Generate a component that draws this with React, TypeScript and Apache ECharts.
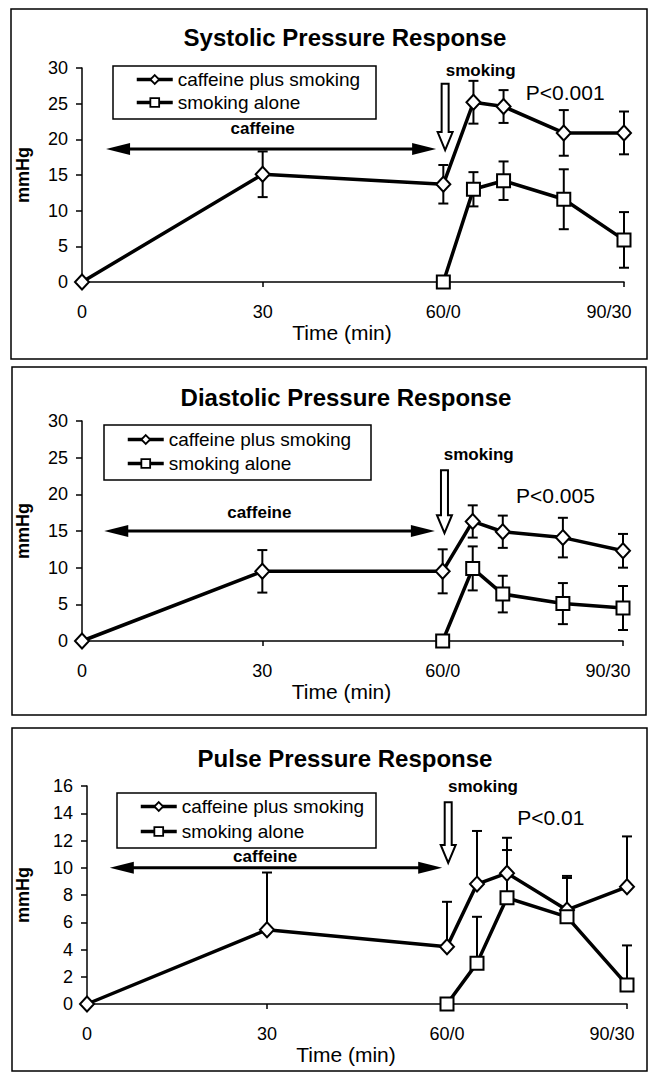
import React, { useEffect, useRef } from "react";
import * as echarts from "echarts";

// ---- data ----
const timeAll = [0, 30, 60, 65, 70, 80, 90];
const timeSmoke = [60, 65, 70, 80, 90];
const xTickValues = [0, 30, 60, 90];
const xTickLabels = ["0", "30", "60/0", "90/30"];
const seriesNames = ["caffeine plus smoking", "smoking alone"];
const panelTitles = ["Systolic Pressure Response", "Diastolic Pressure Response", "Pulse Pressure Response"];
const pLabels = ["P<0.001", "P<0.005", "P<0.01"];

const sysCaf = [0, 15.1, 13.7, 25.2, 24.6, 20.9, 20.9];
const sysCafErr = [0, 3.2, 2.7, 3.0, 2.3, 3.2, 3.0];
const sysSmk = [0, 13.0, 14.2, 11.6, 5.9];
const sysSmkErr = [0, 2.4, 2.7, 4.2, 3.9];

const diaCaf = [0, 9.5, 9.5, 16.3, 14.9, 14.1, 12.3];
const diaCafErr = [0, 2.9, 3.0, 2.2, 2.2, 2.7, 2.3];
const diaSmk = [0, 9.9, 6.4, 5.1, 4.5];
const diaSmkErr = [0, 3.0, 2.5, 2.8, 3.0];

const pulCaf = [0, 5.45, 4.2, 8.8, 9.6, 6.9, 8.6];
const pulCafErr = [0, 4.2, 3.3, 3.9, 2.6, 2.5, 3.7];
const pulSmk = [0, 3.0, 7.8, 6.4, 1.4];
const pulSmkErr = [0, 3.4, 3.5, 2.85, 2.9];

const yMax = [30, 30, 16];
const yInterval = [5, 5, 2];

// ---- layout ----
const FONT = "'Liberation Sans', Arial, Helvetica, sans-serif";
const grids = [
  { left: 82, top: 68, width: 542, height: 214 },
  { left: 82, top: 421, width: 541, height: 220 },
  { left: 87, top: 786, width: 540, height: 218 },
];
const titleTops = [25, 385, 746];
const titleCenters = [345, 346, 345];
const legendPos = [
  { left: 113, top: 66, gap: 4, pad: [4, 20, 5, 22] },
  { left: 104, top: 425, gap: 5, pad: [5, 20, 5, 22] },
  { left: 117, top: 793, gap: 6, pad: [4, 20, 6, 22] },
];
const legendBoxes = [
  { x: 113, y: 66, w: 263, h: 53 },
  { x: 104, y: 425, w: 267, h: 55 },
  { x: 117, y: 793, w: 259, h: 55 },
];
const panelBoxes = [
  { x: 11, y: 9, w: 636, h: 350 },
  { x: 12, y: 367, w: 634, h: 348 },
  { x: 12, y: 728, w: 635, h: 343 },
];
const xNameGap = [37, 35, 33];
const yNameGap = [50, 50, 55];
// annotation anchors in data units of each panel
const annots = [
  { aFrom: 4, aTo: 58.8, aY: 18.65, cX: 30, cY: 21.5, sX: 66.2, sY: 29.7, dX: 60.3, dTop: 27.8, dTip: 18.5, pX: 73.7, pY: 26.6 },
  { aFrom: 3.7, aTo: 58.7, aY: 15, cX: 29.5, cY: 17.5, sX: 66, sY: 25.4, dX: 60.3, dTop: 23.3, dTip: 14.7, pX: 72.2, pY: 19.9 },
  { aFrom: 3.8, aTo: 59.2, aY: 10, cX: 29.7, cY: 10.8, sX: 66, sY: 16.0, dX: 60.2, dTop: 14.8, dTip: 10.35, pX: 71.7, pY: 13.7 },
];

const panels = [
  { caf: sysCaf, cafErr: sysCafErr, smk: sysSmk, smkErr: sysSmkErr, twoSided: true },
  { caf: diaCaf, cafErr: diaCafErr, smk: diaSmk, smkErr: diaSmkErr, twoSided: true },
  { caf: pulCaf, cafErr: pulCafErr, smk: pulSmk, smkErr: pulSmkErr, twoSided: false },
];

function errRender(params: any, api: any) {
  const x = api.value(0);
  const y = api.value(1);
  const up = api.value(2);
  const dn = api.value(3);
  if (!up && !dn) return null;
  const top = api.coord([x, y + up]);
  const bot = api.coord([x, y - dn]);
  const style = { stroke: "#000", lineWidth: 2 };
  const children: any[] = [
    { type: "line", shape: { x1: top[0], y1: top[1], x2: bot[0], y2: bot[1] }, style },
    { type: "line", shape: { x1: top[0] - 5, y1: top[1], x2: top[0] + 5, y2: top[1] }, style },
  ];
  if (dn > 0) {
    children.push({ type: "line", shape: { x1: bot[0] - 5, y1: bot[1], x2: bot[0] + 5, y2: bot[1] }, style });
  }
  return { type: "group", children };
}

function buildOption() {
  const series: any[] = [];
  panels.forEach((p, i) => {
    const cafErrData = timeAll.map((t, k) => [t, p.caf[k], p.cafErr[k], p.twoSided ? p.cafErr[k] : 0]);
    const smkErrData = timeSmoke.map((t, k) => [t, p.smk[k], p.smkErr[k], p.twoSided ? p.smkErr[k] : 0]);
    series.push({
      type: "custom",
      name: "err-caf-" + i,
      xAxisIndex: i,
      yAxisIndex: i,
      renderItem: errRender,
      data: cafErrData,
      encode: { x: 0, y: 1 },
      clip: false,
      silent: true,
      z: 2,
    });
    series.push({
      type: "custom",
      name: "err-smk-" + i,
      xAxisIndex: i,
      yAxisIndex: i,
      renderItem: errRender,
      data: smkErrData,
      encode: { x: 0, y: 1 },
      clip: false,
      silent: true,
      z: 2,
    });
    series.push({
      type: "line",
      name: seriesNames[0],
      xAxisIndex: i,
      yAxisIndex: i,
      data: timeAll.map((t, k) => [t, p.caf[k]]),
      symbol: "diamond",
      symbolSize: [14, 15],
      showAllSymbol: true,
      clip: false,
      lineStyle: { color: "#000", width: 3.5 },
      itemStyle: { color: "#fff", borderColor: "#000", borderWidth: 2 },
      z: 3,
    });
    series.push({
      type: "line",
      name: seriesNames[1],
      xAxisIndex: i,
      yAxisIndex: i,
      data: timeSmoke.map((t, k) => [t, p.smk[k]]),
      symbol: "rect",
      symbolSize: 13,
      showAllSymbol: true,
      clip: false,
      lineStyle: { color: "#000", width: 3.5 },
      itemStyle: { color: "#fff", borderColor: "#000", borderWidth: 2 },
      z: 3,
    });
  });

  return {
    animation: false,
    backgroundColor: "#fff",
    textStyle: { fontFamily: FONT, color: "#000" },
    title: panelTitles.map((t, i) => ({
      text: t,
      left: titleCenters[i],
      top: titleTops[i],
      textAlign: "center",
      padding: 0,
      textStyle: { fontSize: 24, fontWeight: "bold", color: "#000", fontFamily: FONT },
    })),
    legend: legendPos.map((l) => ({
      data: seriesNames,
      orient: "vertical",
      left: l.left,
      top: l.top,
      padding: l.pad,
      itemGap: l.gap,
      itemWidth: 36,
      itemHeight: 11,
      borderWidth: 0,
      selectedMode: false,
      lineStyle: { width: 3.5, color: "#000" },
      itemStyle: { color: "#fff", borderColor: "#000", borderWidth: 1.8 },
      textStyle: { fontSize: 19, color: "#000", fontFamily: FONT },
    })),
    grid: grids.map((g) => ({ ...g })),
    xAxis: grids.map((g, i) => ({
      type: "value",
      gridIndex: i,
      min: 0,
      max: 90,
      interval: 30,
      splitLine: { show: false },
      axisLine: { show: true, onZero: false, lineStyle: { color: "#000", width: 1.5 } },
      axisTick: { show: true, length: 5, lineStyle: { color: "#000", width: 1.5 } },
      axisLabel: {
        fontSize: 18,
        color: "#000",
        fontFamily: FONT,
        margin: 21,
        formatter: (v: number) => {
          const k = xTickValues.indexOf(v);
          if (k < 0) return "";
          return k === xTickValues.length - 1 ? "{last|" + xTickLabels[k] + "}" : xTickLabels[k];
        },
        rich: {
          last: { fontSize: 18, color: "#000", fontFamily: FONT, padding: [0, 30, 0, 0] },
        },
      },
      name: "Time (min)",
      nameLocation: "middle",
      nameGap: xNameGap[i],
      nameTextStyle: { fontSize: 21, color: "#000", fontFamily: FONT, padding: [0, 22, 0, 0] },
    })),
    yAxis: grids.map((g, i) => ({
      type: "value",
      gridIndex: i,
      min: 0,
      max: yMax[i],
      interval: yInterval[i],
      splitLine: { show: false },
      axisLine: { show: true, onZero: false, lineStyle: { color: "#000", width: 1.5 } },
      axisTick: { show: true, length: 6, lineStyle: { color: "#000", width: 1.5 } },
      axisLabel: { fontSize: 18, color: "#000", fontFamily: FONT, margin: 14 },
      name: "mmHg",
      nameLocation: "middle",
      nameRotate: 90,
      nameGap: yNameGap[i],
      nameTextStyle: { fontSize: 18, fontWeight: "bold", color: "#000", fontFamily: FONT },
    })),
    series,
  };
}

function buildGraphics(chart: any) {
  const els: any[] = [];
  panelBoxes.forEach((b) => {
    els.push({
      type: "rect",
      shape: { x: b.x, y: b.y, width: b.w, height: b.h },
      style: { fill: "none", stroke: "#000", lineWidth: 1.5 },
      silent: true,
      z: 0,
    });
  });
  legendBoxes.forEach((b) => {
    els.push({
      type: "rect",
      shape: { x: b.x, y: b.y, width: b.w, height: b.h },
      style: { fill: "none", stroke: "#000", lineWidth: 1.5 },
      silent: true,
      z: 0,
    });
  });
  annots.forEach((a, i) => {
    const px = (x: number, y: number) => chart.convertToPixel({ gridIndex: i }, [x, y]);
    const l = px(a.aFrom, a.aY);
    const r = px(a.aTo, a.aY);
    const hl = 24;
    const hh = 6;
    els.push({
      type: "line",
      shape: { x1: l[0] + hl - 2, y1: l[1], x2: r[0] - hl + 2, y2: r[1] },
      style: { stroke: "#000", lineWidth: 3 },
      silent: true,
    });
    els.push({
      type: "polygon",
      shape: { points: [[l[0], l[1]], [l[0] + hl, l[1] - hh], [l[0] + hl, l[1] + hh]] },
      style: { fill: "#000" },
      silent: true,
    });
    els.push({
      type: "polygon",
      shape: { points: [[r[0], r[1]], [r[0] - hl, r[1] - hh], [r[0] - hl, r[1] + hh]] },
      style: { fill: "#000" },
      silent: true,
    });
    const c = px(a.cX, a.cY);
    els.push({
      type: "text",
      x: c[0],
      y: c[1],
      style: { text: "caffeine", fontSize: 17, fontWeight: "bold", fontFamily: FONT, fill: "#000", align: "center", verticalAlign: "middle" },
      silent: true,
    });
    const s = px(a.sX, a.sY);
    els.push({
      type: "text",
      x: s[0],
      y: s[1],
      style: { text: "smoking", fontSize: 17, fontWeight: "bold", fontFamily: FONT, fill: "#000", align: "center", verticalAlign: "middle" },
      silent: true,
    });
    const dt = px(a.dX, a.dTop);
    const dp = px(a.dX, a.dTip);
    const cx = dt[0];
    const sw = 3.5;
    const hw = 7.5;
    const hLen = 18;
    els.push({
      type: "polygon",
      shape: {
        points: [
          [cx - sw, dt[1]],
          [cx + sw, dt[1]],
          [cx + sw, dp[1] - hLen],
          [cx + hw, dp[1] - hLen],
          [cx, dp[1]],
          [cx - hw, dp[1] - hLen],
          [cx - sw, dp[1] - hLen],
        ],
      },
      style: { fill: "#fff", stroke: "#000", lineWidth: 2 },
      silent: true,
    });
    const pp = px(a.pX, a.pY);
    els.push({
      type: "text",
      x: pp[0],
      y: pp[1],
      style: { text: pLabels[i], fontSize: 21, fontFamily: FONT, fill: "#000", align: "left", verticalAlign: "middle" },
      silent: true,
    });
  });
  return els;
}

export default function App() {
  const ref = useRef<HTMLDivElement>(null);
  useEffect(() => {
    if (!ref.current) return;
    const chart = echarts.init(ref.current, undefined, { renderer: "svg" });
    chart.setOption(buildOption() as any);
    chart.setOption({ graphic: buildGraphics(chart) } as any);
    return () => chart.dispose();
  }, []);
  return (
    <div
      ref={ref}
      style={{ position: "absolute", left: 0, top: 0, width: 651, height: 1073, background: "#fff" }}
    />
  );
}
